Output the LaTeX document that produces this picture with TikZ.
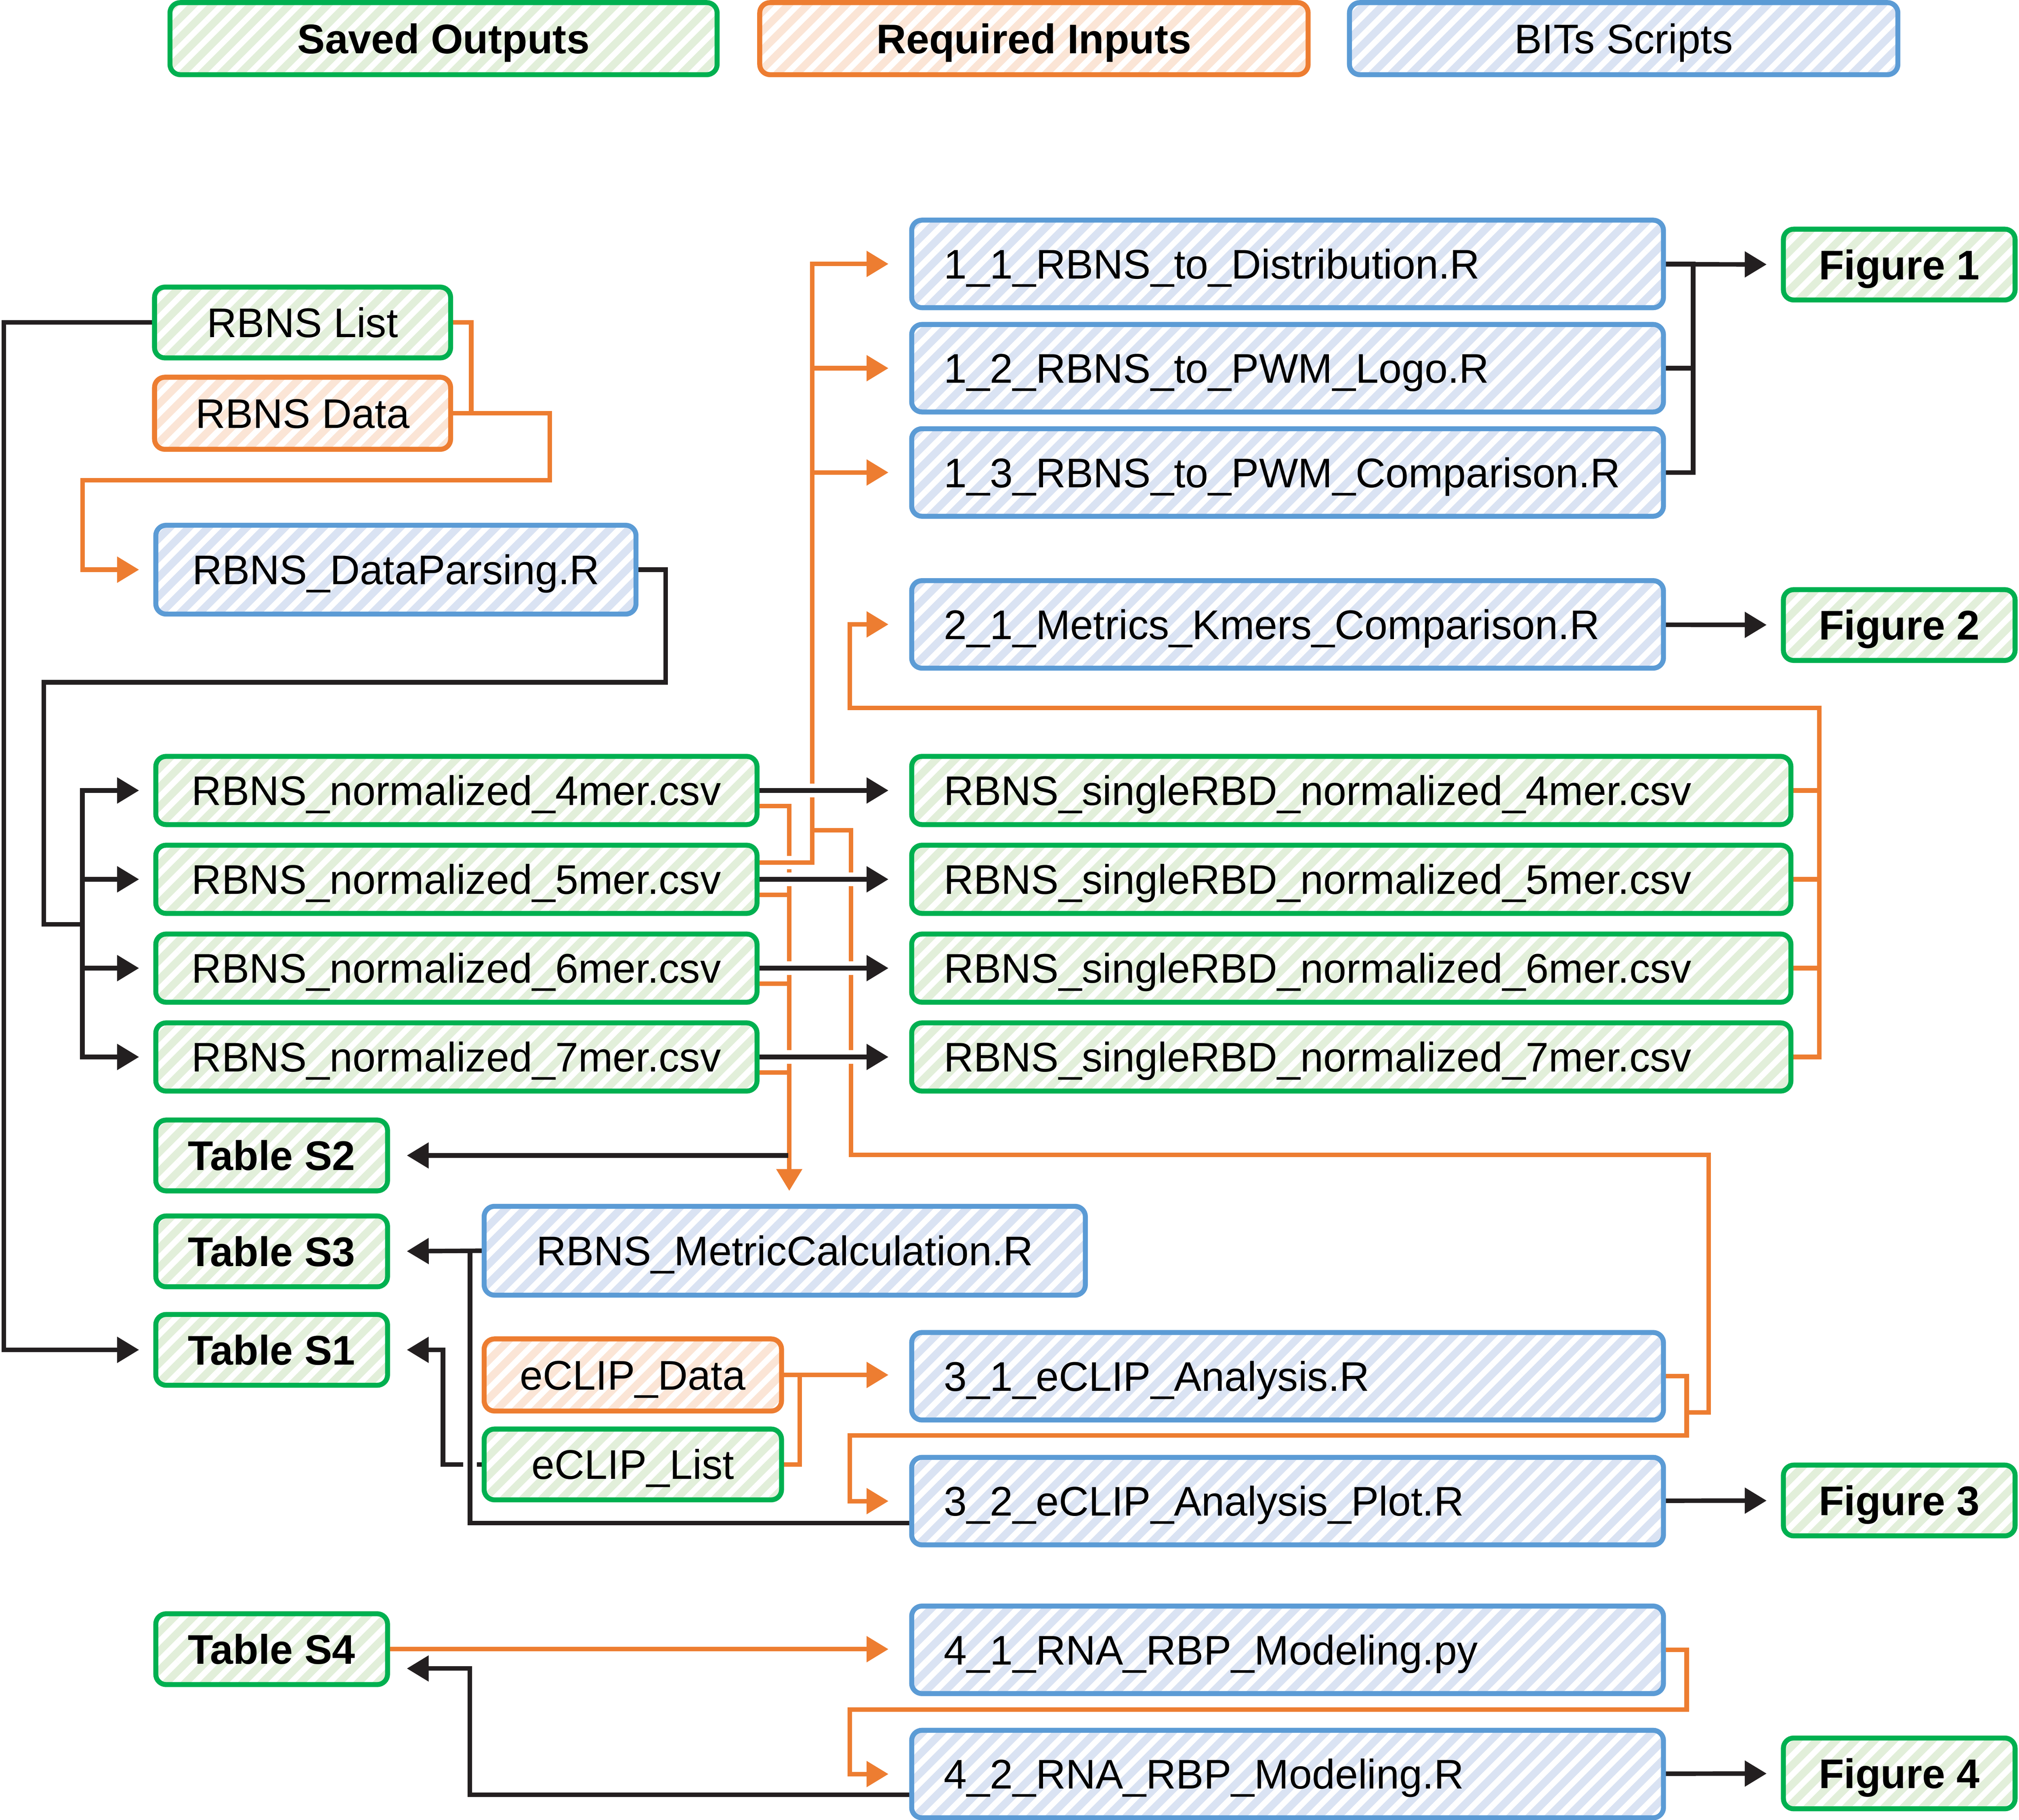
\documentclass[tikz,border=0pt]{standalone}
\usepackage{fontspec}
\setmainfont{Liberation Sans}
\usetikzlibrary{arrows.meta,patterns.meta,backgrounds}
\definecolor{cOut}{HTML}{00B050}
\definecolor{cOutFill}{HTML}{E2EFDA}
\definecolor{cIn}{HTML}{ED7D31}
\definecolor{cInFill}{HTML}{FBE5D6}
\definecolor{cScr}{HTML}{5B9BD5}
\definecolor{cScrFill}{HTML}{DAE3F3}
\definecolor{cInk}{HTML}{231F20}
\newcommand\boxfont{\fontsize{18.3}{22}\selectfont}
\begin{document}
\begin{tikzpicture}[x=0.02cm,y=-0.02cm,
  every node/.style={font=\boxfont},
  box/.style={draw,line width=2.2pt,rounded corners=0.16cm,anchor=west,
    inner sep=0pt,outer sep=0pt,minimum height=1.1cm,text height=13.1pt,text depth=0pt,
    pattern={Lines[angle=45,distance=6pt,line width=2.6pt]},pattern color=white},
  output node/.style={box,draw=cOut,preaction={fill=cOutFill}},
  input node/.style={box,draw=cIn,preaction={fill=cInFill}},
  script node/.style={box,draw=cScr,preaction={fill=cScrFill},minimum height=1.36cm},
  script left/.style={script node,text width=10.68cm,inner xsep=0.5cm,align=left},
  bold/.style={font=\boxfont\bfseries},
  in line/.style={draw=cIn,line width=2pt},
  flow line/.style={draw=cInk,line width=2pt},
  arr/.style={-{Triangle[length=0.34cm,width=0.39cm]},shorten >=#1},
  arr/.default=0.3cm,
  halo/.style={preaction={draw=white,line width=6pt,-}}]

  \useasboundingbox (0,0) rectangle (1568,1413.7);

  % legend
  \node[output node,bold,minimum width=8.5cm,minimum height=1.12cm] (lo) at (132,30) {Saved Outputs};
  \node[input node,bold,minimum width=8.52cm,minimum height=1.12cm] (li) at (590,30) {Required Inputs};
  \node[script node,minimum width=8.52cm,minimum height=1.12cm] (ls) at (1048,30) {BITs Scripts};

  % left column
  \node[output node,minimum width=4.6cm] (list) at (120,250.5) {RBNS List};
  \node[input node,minimum width=4.6cm,minimum height=1.12cm] (data) at (120,321) {RBNS Data};
  \node[script node,minimum width=7.46cm,minimum height=1.38cm] (parse) at (121,442.5) {RBNS\_DataParsing.R};
  \foreach \k/\y in {4/614,5/683,6/752,7/821}{
    \node[output node,minimum width=9.34cm,minimum height=1.06cm] (n\k) at (121,\y) {RBNS\_normalized\_\k mer.csv};
    \node[output node,minimum height=1.06cm,text width=12.66cm,inner xsep=0.5cm,align=left] (r\k) at (708,\y) {RBNS\_singleRBD\_normalized\_\k mer.csv};
  }
  \node[output node,bold,minimum width=3.6cm] (ts2) at (121,897.5) {Table S2};
  \node[output node,bold,minimum width=3.6cm] (ts3) at (121,972) {Table S3};
  \node[output node,bold,minimum width=3.6cm] (ts1) at (121,1048.5) {Table S1};
  \node[output node,bold,minimum width=3.6cm] (ts4) at (121,1281) {Table S4};
  \node[script node,minimum width=9.34cm,minimum height=1.38cm] (metric) at (376,971.5) {RBNS\_MetricCalculation.R};
  \node[input node,minimum width=4.62cm,minimum height=1.12cm] (edata) at (376,1068) {eCLIP\_Data};
  \node[output node,minimum width=4.62cm] (elist) at (376,1137.5) {eCLIP\_List};

  % scripts
  \node[script left] (s11) at (708,205) {1\_1\_RBNS\_to\_Distribution.R};
  \node[script left] (s12) at (708,286) {1\_2\_RBNS\_to\_PWM\_Logo.R};
  \node[script left] (s13) at (708,367) {1\_3\_RBNS\_to\_PWM\_Comparison.R};
  \node[script left] (s21) at (708,485) {2\_1\_Metrics\_Kmers\_Comparison.R};
  \node[script left] (s31) at (708,1069) {3\_1\_eCLIP\_Analysis.R};
  \node[script left] (s32) at (708,1166) {3\_2\_eCLIP\_Analysis\_Plot.R};
  \node[script left] (s41) at (708,1281.5) {4\_1\_RNA\_RBP\_Modeling.py};
  \node[script left] (s42) at (708,1378) {4\_2\_RNA\_RBP\_Modeling.R};

  % figures
  \node[output node,bold,minimum width=3.6cm] (fig1) at (1385,205.5) {Figure 1};
  \node[output node,bold,minimum width=3.6cm] (fig2) at (1385,485.5) {Figure 2};
  \node[output node,bold,minimum width=3.6cm] (fig3) at (1385,1165.5) {Figure 3};
  \node[output node,bold,minimum width=3.6cm] (fig4) at (1385,1377.5) {Figure 4};

  \coordinate (nbus) at (64,718);
  \coordinate (kbus) at (631,645);
  \coordinate (t2src) at (612,897.5);

  \begin{scope}[on background layer]
  % inputs
  \draw[in line] (list.east) -- ++(16,0) |- (data.east);
  \draw[in line,arr=0.26cm] (data.east) -- ++(77,0) -- ++(0,52) -| ([xshift=-1.14cm]parse.west) -- (parse.west);
  \draw[in line,arr=0.24cm] ([yshift=-0.24cm]n4.east) -| ([xshift=0.07cm]metric.north);
  \foreach \k in {5,6,7}
    \draw[in line] ([yshift=-0.24cm]n\k.east) -- ++(25,0);
  \draw[in line,halo,arr=0.36cm] ([yshift=0.26cm]n5.east) -- ++(43,0) |- (s11.west);
  \draw[in line,arr=0.36cm] ([xshift=-1.54cm]s12.west) -- (s12.west);
  \draw[in line,arr=0.36cm] ([xshift=-1.54cm]s13.west) -- (s13.west);
  \draw[in line] (kbus) -- ++(30,0) -- ++(0,252) -| ([xshift=0.7cm,yshift=-0.56cm]s31.east) -- ++(-17,0);
  \foreach \k in {4,5,6}
    \draw[in line] (r\k.east) -- ++(22,0);
  \draw[in line,arr=0.36cm] (r7.east) -- ++(22,0) |- ([xshift=-0.96cm,yshift=-1.3cm]s21.west) |- (s21.west);
  \draw[in line,arr=0.36cm] (edata.east) -- (edata.east -| s31.west);
  \draw[in line] (elist.east) -- ++(14,0) |- (edata.east);
  \draw[in line,arr=0.36cm] (s31.east) -- ++(18,0) -- ++(0,46) -| ([xshift=-0.96cm]s32.west) -- (s32.west);
  \draw[in line,arr=0.36cm] (ts4.east) -- (ts4.east -| s41.west);
  \draw[in line,arr=0.36cm] (s41.east) -- ++(18,0) -- ++(0,46.5) -| ([xshift=-0.96cm]s42.west) -- (s42.west);

  % outputs
  \draw[flow line,arr=0.26cm] (list.west) -- ++(-117,0) |- (ts1.west);
  \draw[flow line] (parse.east) -- ++(23,0) -- ++(0,87.5) -| ([xshift=-0.6cm]nbus) -- (nbus);
  \foreach \k in {4,...,7}{
    \draw[flow line,arr=0.26cm] (nbus) |- (n\k.west);
    \draw[flow line,halo,arr=0.36cm] (n\k) -- (r\k);
  }
  \draw[flow line,arr=0.26cm] (s11) -- (fig1);
  \draw[flow line] (s12.east) -- ++(23,0);
  \draw[flow line] (s13.east) -- ++(23,0) |- (s11.east);
  \draw[flow line,arr=0.26cm] (s21) -- (fig2);
  \draw[flow line,arr=0.26cm] (s32) -- (fig3);
  \draw[flow line,arr=0.26cm] (s42) -- (fig4);
  \draw[flow line,arr] (t2src) -- (ts2.east);
  \draw[flow line,arr] (elist.west) -- ++(-32,0) |- (ts1.east);
  \draw[flow line,halo] ([yshift=-0.34cm]s32.west) -| ([xshift=-0.22cm]metric.west);
  \draw[flow line,arr] (metric.west) -- (ts3.east);
  \draw[flow line,arr] ([yshift=-0.32cm]s42.west) -| ([xshift=1.28cm,yshift=-0.3cm]ts4.east) -- ([yshift=-0.3cm]ts4.east);
  \end{scope}
\end{tikzpicture}
\end{document}
